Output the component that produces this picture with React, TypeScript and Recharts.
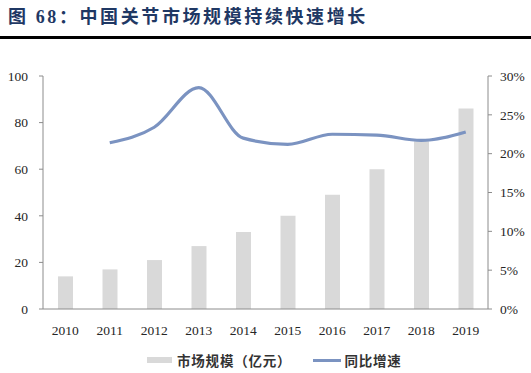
import { ComposedChart, Bar, Line, XAxis, YAxis } from 'recharts'

const years = ['2010', '2011', '2012', '2013', '2014', '2015', '2016', '2017', '2018', '2019']
const marketSize = [14, 17, 21, 27, 33, 40, 49, 60, 72, 86]
const growth = [null, 21.4, 23.4, 28.5, 22.0, 21.2, 22.5, 22.4, 21.7, 22.8]
const leftTicks = [0, 20, 40, 60, 80, 100]
const rightTicks = [0, 5, 10, 15, 20, 25, 30]

const data = years.map((year, i) => ({ year, size: marketSize[i], growth: growth[i] }))

const serif = 'Liberation Serif'
const tickFont = { fontFamily: serif, fontSize: 13.5, fill: '#262626' }
const axisColor = '#8c8c8c'

export default function App() {
  return (
    <div style={{ position: 'absolute', left: 0, top: 0, width: 531, height: 373, background: '#fff' }}>
      <div
        style={{
          position: 'absolute',
          left: 8,
          top: 2,
          fontFamily: "'Liberation Serif', 'Noto Sans CJK SC'",
          fontWeight: 700,
          fontSize: 18,
          letterSpacing: 2.6,
          color: '#1f3864',
          whiteSpace: 'nowrap',
        }}
      >
        图 68：中国关节市场规模持续快速增长
      </div>
      <div style={{ position: 'absolute', left: 0, top: 36, width: 531, height: 3, background: '#000' }} />

      <div style={{ position: 'absolute', left: 0, top: 0 }}>
        <ComposedChart
          width={531}
          height={373}
          data={data}
          margin={{ top: 76, right: 0, bottom: 34, left: 0 }}
          style={{ fontFamily: serif }}
        >
          <XAxis
            dataKey="year"
            tickLine={false}
            tickMargin={10}
            height={30}
            stroke={axisColor}
            tick={tickFont}
          />
          <YAxis
            yAxisId="left"
            domain={[0, 100]}
            ticks={leftTicks}
            width={43}
            tickSize={4}
            tickMargin={11}
            stroke={axisColor}
            tick={tickFont}
            interval={0}
          />
          <YAxis
            yAxisId="right"
            orientation="right"
            domain={[0, 30]}
            ticks={rightTicks}
            width={43}
            tickSize={4}
            tickMargin={8}
            stroke={axisColor}
            tick={{ ...tickFont, textAnchor: 'start' }}
            tickFormatter={(v: number) => `${v}%`}
            interval={0}
          />
          <Bar yAxisId="left" dataKey="size" fill="#d9d9d9" barSize={15} isAnimationActive={false} />
          <Line
            yAxisId="right"
            dataKey="growth"
            type="monotone"
            stroke="#7b93c1"
            strokeWidth={3.2}
            dot={false}
            activeDot={false}
            isAnimationActive={false}
          />
        </ComposedChart>
      </div>

      <div
        style={{
          position: 'absolute',
          left: 147,
          top: 350,
          display: 'flex',
          alignItems: 'center',
          fontFamily: "'Noto Sans CJK SC', sans-serif",
          fontWeight: 700,
          fontSize: 13.5,
          letterSpacing: 0.8,
          color: '#333',
          whiteSpace: 'nowrap',
        }}
      >
        <span style={{ display: 'inline-block', width: 25, height: 6, background: '#d9d9d9', marginRight: 5 }} />
        <span>市场规模（亿元）</span>
        <span style={{ display: 'inline-block', width: 28, height: 3, background: '#7b93c1', marginLeft: 22, marginRight: 3 }} />
        <span>同比增速</span>
      </div>
    </div>
  )
}
